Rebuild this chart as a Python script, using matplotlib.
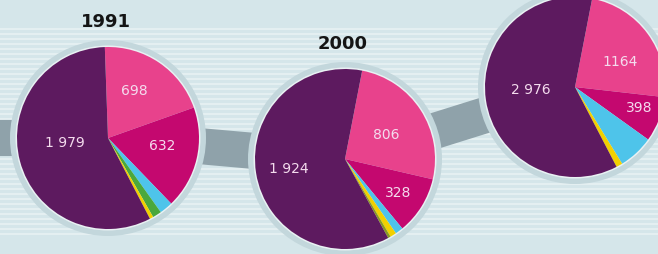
import numpy as np
import matplotlib.pyplot as plt
from matplotlib.patches import Circle

# data (values per year, same category order in each)
years = ['1991', '2000', '']
categories = ['pink', 'magenta', 'cyan', 'green', 'yellow', 'olive', 'purple']
vals_1991 = [698, 632, 82, 55, 22, 0, 1979]
vals_2000 = [806, 328, 45, 0, 35, 15, 1924]
vals_2011 = [1164, 398, 310, 0, 55, 0, 2976]
labels_1991 = ['698', '632', '', '', '', '', '1 979']
labels_2000 = ['806', '328', '', '', '', '', '1 924']
labels_2011 = ['1164', '398', '', '', '', '', '2 976']

colors = ['#e8428c', '#c4086f', '#4ec4ea', '#4aa83c', '#f2d000', '#8a9a20', '#5d1a5f']

# layout (pixel units, y up)
W, H = 658, 255
centers = [(108, 116), (345, 95), (575, 167)]
radii = [91, 90, 90]
starts = [92, 79, 79]
label_r = [[0.6, 0.6, 0, 0, 0, 0, 0.47],
           [0.54, 0.69, 0, 0, 0, 0, 0.63],
           [0.58, 0.75, 0, 0, 0, 0, 0.49]]
label_shift = [[5, 6, 0, 0, 0, 0, -10],
               [-2, 0, 0, 0, 0, 0, 0],
               [-6, 4, 0, 0, 0, 0, -6]]

fig = plt.figure(figsize=[6.58, 2.55], dpi=100)
fig.patch.set_facecolor('#d5e6ea')
ax = fig.add_axes([0, 0, 1, 1])
ax.set_facecolor('#d5e6ea')

# striped background
for yy in np.arange(H - 30, 18, -5):
    ax.axhline(yy, color='#e6f0f2', lw=1.3, zorder=0)

# connecting band
bx = [0] + [c[0] for c in centers]
by = [centers[0][1]] + [c[1] for c in centers]
ax.plot(bx, by, color='#8fa2aa', lw=26, solid_capstyle='butt',
        solid_joinstyle='round', zorder=1)

all_vals = [vals_1991, vals_2000, vals_2011]
all_labels = [labels_1991, labels_2000, labels_2011]
for i in range(3):
    cx, cy = centers[i]
    r = radii[i]
    ax.add_patch(Circle((cx, cy), r + 7, facecolor='#c3d7dc', edgecolor='none', zorder=2))
    ax.add_patch(Circle((cx, cy), r + 1.5, facecolor='#e9f1f3', edgecolor='none', zorder=3))
    wedges, _ = ax.pie(all_vals[i], colors=colors, startangle=starts[i],
                       counterclock=False, center=(cx, cy), radius=r,
                       wedgeprops=dict(linewidth=0))
    for w in wedges:
        w.set_zorder(4)
    for j, w in enumerate(wedges):
        if all_labels[i][j] == '':
            continue
        a = np.deg2rad((w.theta1 + w.theta2) / 2 + label_shift[i][j])
        d = label_r[i][j] * r
        ax.text(cx + d * np.cos(a), cy + d * np.sin(a), all_labels[i][j],
                color='#f4dcee', fontsize=10, ha='center', va='center', zorder=5)
    if years[i]:
        ax.text(cx - 2, cy + r + 26, years[i], fontsize=13, fontweight='bold',
                color='#151515', ha='center', va='center', zorder=5)

ax.set_xlim(0, W)
ax.set_ylim(0, H)
ax.set_aspect('auto')
ax.axis('off')
fig.savefig('out.png', dpi=100, facecolor=fig.get_facecolor())
